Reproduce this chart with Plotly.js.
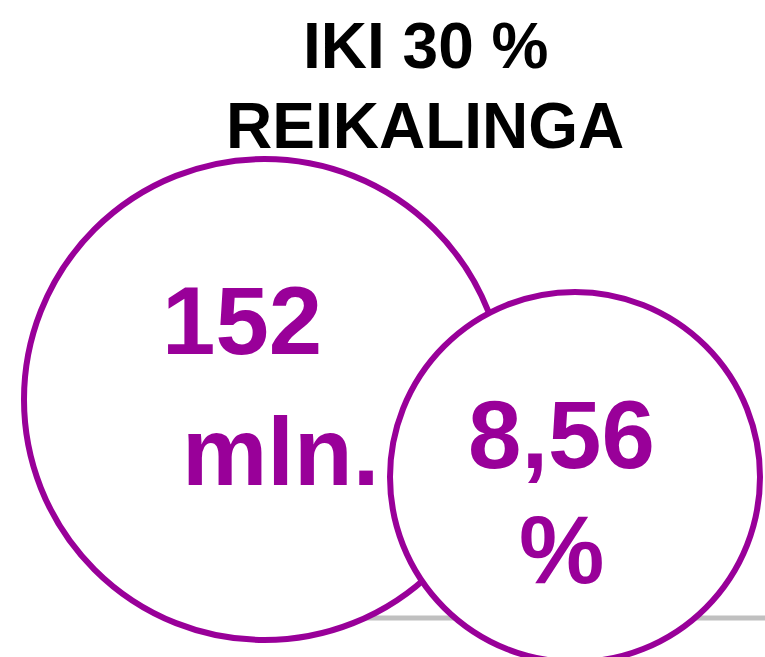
<!DOCTYPE html>
<html>
<head>
<meta charset="utf-8">
<script src="https://cdn.plot.ly/plotly-3.0.1.min.js"></script>
<style>
  html, body { margin: 0; padding: 0; background: #fff; }
  #chart { width: 765px; height: 657px; }
</style>
</head>
<body>
<div id="chart"></div>
<script>
// chart data
var titleLines = ['IKI 30 %', 'REIKALINGA'];
var bubbleNames = ['suma', 'dalis'];
var bubbleLines = [['152', 'mln.'], ['8,56', '%']];

var purple = '#990099';
var font = 'Liberation Sans, Arial, sans-serif';

// layout of bubbles in pixel space (x right, y down)
var cx = [264.5, 575];
var cy = [399.5, 477];
var r = [240.5, 185];
var lineY = [[320, 451], [434, 549]];
var lineX = [[242, 280], [561, 561]];
var titleY = [46, 126];

var shapes = [{
  type: 'line', xref: 'x', yref: 'y',
  x0: 300, x1: 765, y0: 618, y1: 618,
  line: {color: '#c0c0c0', width: 5},
  layer: 'below'
}];
bubbleNames.forEach(function(n, i) {
  shapes.push({
    type: 'circle', xref: 'x', yref: 'y',
    x0: cx[i] - r[i], x1: cx[i] + r[i],
    y0: cy[i] - r[i], y1: cy[i] + r[i],
    fillcolor: '#ffffff',
    line: {color: purple, width: 6},
    layer: 'above'
  });
});

var annotations = [];
titleLines.forEach(function(t, j) {
  annotations.push({
    x: 425, y: titleY[j], xref: 'x', yref: 'y',
    text: '<b>' + t + '</b>', showarrow: false,
    xanchor: 'center', yanchor: 'middle',
    font: {family: font, size: 64, color: '#000'}
  });
});
bubbleLines.forEach(function(lines, i) {
  lines.forEach(function(t, j) {
    annotations.push({
      x: lineX[i][j], y: lineY[i][j], xref: 'x', yref: 'y',
      text: '<b>' + t + '</b>', showarrow: false,
      xanchor: 'center', yanchor: 'middle',
      font: {family: font, size: 96, color: purple}
    });
  });
});

var layout = {
  width: 765, height: 657, autosize: false,
  margin: {l: 0, r: 0, t: 0, b: 0},
  paper_bgcolor: '#fff', plot_bgcolor: '#fff',
  xaxis: {range: [0, 765], visible: false, fixedrange: true},
  yaxis: {range: [657, 0], visible: false, fixedrange: true},
  shapes: shapes,
  annotations: annotations,
  showlegend: false
};

Plotly.newPlot('chart', [{x: [], y: [], type: 'scatter', hoverinfo: 'skip'}], layout, {displayModeBar: false, staticPlot: true});
</script>
</body>
</html>
